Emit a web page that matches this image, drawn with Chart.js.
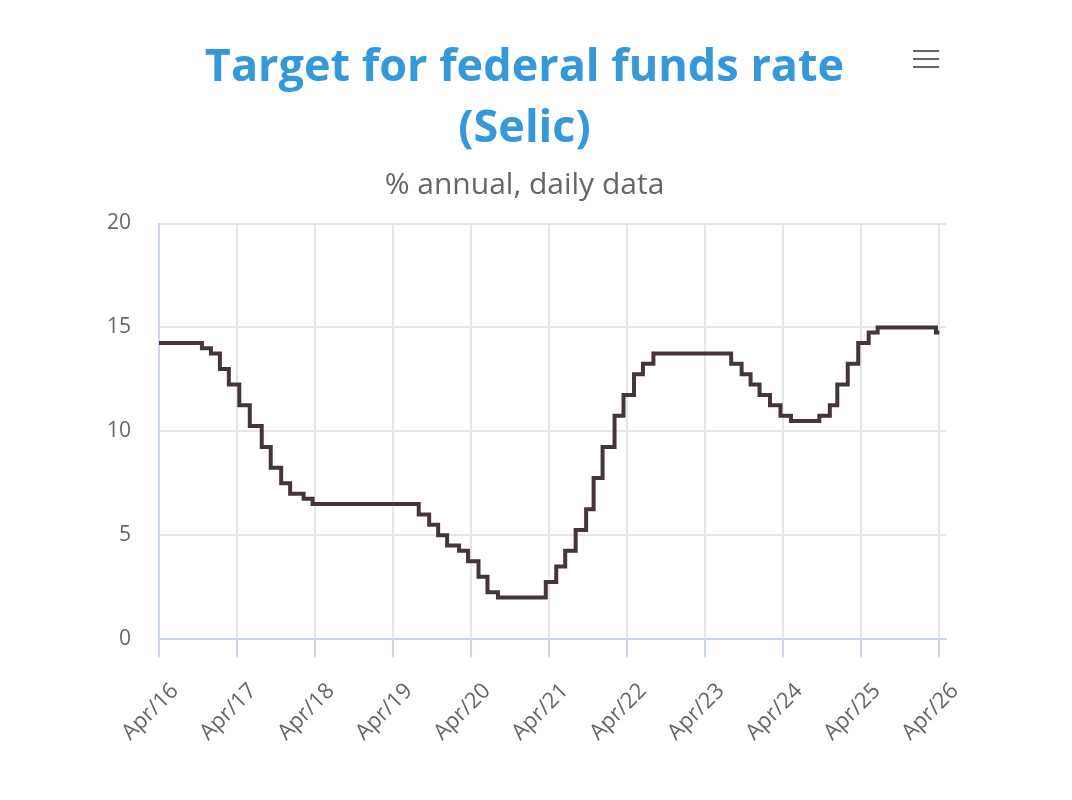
<!DOCTYPE html>
<html>
<head>
<meta charset="utf-8">
<script src="https://cdn.jsdelivr.net/npm/chart.js@4"></script>
<style>
  body { margin: 0; background: #fff; }
  #wrap { position: relative; width: 1072px; height: 800px; }
  .bar { position: absolute; left: 913px; width: 26px; height: 2px; background: #666; }
</style>
</head>
<body>
<div id="wrap">
  <canvas id="myChart"></canvas>
  <div class="bar" style="top:50px"></div>
  <div class="bar" style="top:58px"></div>
  <div class="bar" style="top:66px"></div>
</div>
<script>
// dates when the target rate changed, and the new rate (% annual)
var changeDates = [
  "2016-04-01", "2016-10-19", "2016-11-30", "2017-01-11", "2017-02-22",
  "2017-04-12", "2017-05-31", "2017-07-26", "2017-09-06", "2017-10-25",
  "2017-12-06", "2018-02-07", "2018-03-21", "2019-07-31", "2019-09-18",
  "2019-10-30", "2019-12-11", "2020-02-05", "2020-03-18", "2020-05-06",
  "2020-06-17", "2020-08-05", "2021-03-17", "2021-05-05", "2021-06-16",
  "2021-08-04", "2021-09-22", "2021-10-27", "2021-12-08", "2022-02-02",
  "2022-03-16", "2022-05-04", "2022-06-15", "2022-08-03", "2023-08-02",
  "2023-09-20", "2023-11-01", "2023-12-13", "2024-01-31", "2024-03-20",
  "2024-05-08", "2024-09-18", "2024-11-06", "2024-12-11", "2025-01-29",
  "2025-03-19", "2025-05-07", "2025-06-18", "2026-03-18", "2026-04-03"
];
var rates = [
  14.25, 14.00, 13.75, 13.00, 12.25,
  11.25, 10.25, 9.25, 8.25, 7.50,
  7.00, 6.75, 6.50, 6.00, 5.50,
  5.00, 4.50, 4.25, 3.75, 3.00,
  2.25, 2.00, 2.75, 3.50, 4.25,
  5.25, 6.25, 7.75, 9.25, 10.75,
  11.75, 12.75, 13.25, 13.75, 13.25,
  12.75, 12.25, 11.75, 11.25, 10.75,
  10.50, 10.75, 11.25, 12.25, 13.25,
  14.25, 14.75, 15.00, 14.75, 14.75
];
var tickDates = [
  "2016-04-01", "2017-04-01", "2018-04-01", "2019-04-01", "2020-04-01", "2021-04-01",
  "2022-04-01", "2023-04-01", "2024-04-01", "2025-04-01", "2026-04-01"
];
var tickLabels = [
  "Apr/16", "Apr/17", "Apr/18", "Apr/19", "Apr/20", "Apr/21",
  "Apr/22", "Apr/23", "Apr/24", "Apr/25", "Apr/26"
];
var yTicks = [0, 5, 10, 15, 20];

function toTime(s) {
  return new Date(s + "T00:00:00Z").getTime();
}

var points = [];
for (var i = 0; i < changeDates.length; i++) {
  points.push({ x: toTime(changeDates[i]), y: rates[i] });
}
var tickValues = tickDates.map(toTime);

var font = "'Open Sans', 'Noto Sans', sans-serif";

// nudge the title + subtitle a bit right, like the original
var shiftTitles = {
  id: "shiftTitles",
  afterLayout: function (chart) {
    chart.boxes.forEach(function (box) {
      if (box.position === "top" && box.options && box.options.text) {
        box.left += 12;
        box.right += 12;
      }
    });
  },
};

var ctx = document.getElementById("myChart");

var myChart = new Chart(ctx, {
  type: "line",
  data: {
    datasets: [
      {
        label: "Selic",
        data: points,
        borderColor: "#45353b",
        borderWidth: 4,
        pointRadius: 0,
        stepped: true,
        fill: false,
      },
    ],
  },
  plugins: [shiftTitles],
  options: {
    responsive: true,
    maintainAspectRatio: false,
    animation: false,
    layout: {
      padding: { left: 79, right: 126, top: 0, bottom: 33 },
    },
    plugins: {
      legend: { display: false },
      tooltip: { enabled: false },
      title: {
        display: true,
        text: ["Target for federal funds rate", "(Selic)"],
        color: "#3498db",
        font: { family: font, size: 45, weight: "bold", lineHeight: 1.35 },
        padding: { top: 38, bottom: 0 },
      },
      subtitle: {
        display: true,
        text: "% annual, daily data",
        color: "#666666",
        font: { family: font, size: 30, lineHeight: 1.2 },
        padding: { top: 8, bottom: 20 },
      },
    },
    scales: {
      x: {
        type: "linear",
        min: toTime("2016-04-01"),
        max: toTime("2026-05-04"),
        afterBuildTicks: function (axis) {
          axis.ticks = tickValues.map(function (v) {
            return { value: v };
          });
        },
        ticks: {
          autoSkip: false,
          minRotation: 45,
          maxRotation: 45,
          color: "#666666",
          font: { family: font, size: 22 },
          padding: 21,
          labelOffset: 16,
          callback: function (value) {
            var k = tickValues.indexOf(value);
            return k >= 0 ? tickLabels[k] : "";
          },
        },
        grid: {
          color: "#e6e6e6",
          lineWidth: 2,
          tickColor: "#ccd6eb",
          tickLength: 18,
        },
        border: { color: "#ccd6eb", width: 2 },
      },
      y: {
        min: 0,
        max: 20,
        afterBuildTicks: function (axis) {
          axis.ticks = yTicks.map(function (v) {
            return { value: v };
          });
        },
        ticks: {
          color: "#666666",
          font: { family: font, size: 21 },
          padding: 28,
        },
        grid: {
          color: "#e6e6e6",
          lineWidth: 2,
          drawTicks: false,
        },
        border: { color: "#ccd6eb", width: 2 },
      },
    },
  },
});
</script>
</body>
</html>
